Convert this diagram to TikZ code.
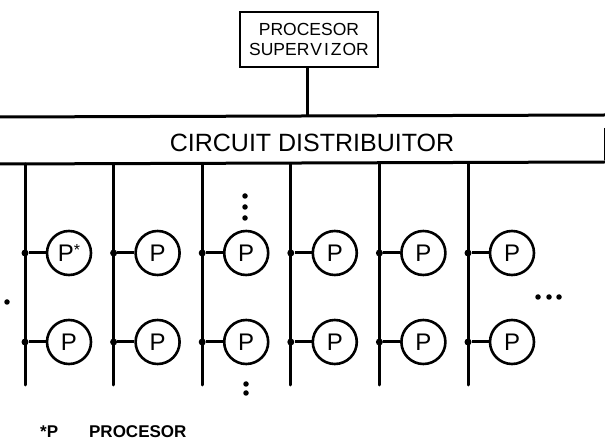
\documentclass[tikz,border=0pt]{standalone}
\usepackage{fontspec}
\setmainfont{Liberation Sans}
\begin{document}
\begin{tikzpicture}[x=1pt,y=-1pt,
  line/.style={line width=3pt},
  pnode/.style={circle,draw,line width=2.6pt,minimum size=44pt,inner sep=0pt,font=\fontsize{24}{24}\selectfont},
  jdot/.style={circle,fill,inner sep=0pt,minimum size=7pt},
  bigdot/.style={circle,fill,inner sep=0pt,minimum size=5.5pt}]
\useasboundingbox (0,0) rectangle (605,443);
% supervisor
\node[draw,line width=2.4pt,minimum width=138pt,minimum height=55pt,align=center,
      font=\fontsize{17.5}{20}\selectfont] (sup) at (309,39.5) {PROCESOR\\SUPER\hspace{1pt}V\hspace{2pt}I\hspace{2pt}Z\hspace{1pt}OR};
% distributor
\coordinate (dtl) at (0,117);
\coordinate (dtr) at (605,115);
\coordinate (dbl) at (0,164);
\coordinate (dbr) at (605,162);
\draw[line] (dtl) -- (dtr);
\draw[line] (dbl) -- (dbr);
\draw[line width=1pt] (604,128) -- (604,160);
\node[font=\fontsize{25}{25}\selectfont] (dist) at (312,143) {CIRCUIT DISTRIBUITOR};
\coordinate (dtop) at (307,117);
\draw[line] (sup.south -| dtop) -- (dtop);
% columns
\foreach \i in {0,...,5}{
  \pgfmathsetmacro{\bx}{25+88.6*\i}
  \coordinate (bt\i) at (\bx,164);
  \coordinate (bb\i) at (\bx,385);
  \draw[line,line cap=round] (bt\i) -- (bb\i);
  \node[jdot] (ja\i) at (\bx,253) {};
  \node[jdot] (jb\i) at (\bx,342) {};
  \ifnum\i=0
    \node[pnode] (pa\i) at (\bx+44,253) {P\raisebox{6pt}{\fontsize{16}{16}\selectfont*}};
  \else
    \node[pnode] (pa\i) at (\bx+44,253) {P};
  \fi
  \node[pnode] (pb\i) at (\bx+44,342) {P};
  \draw[line] (ja\i) -- (pa\i);
  \draw[line] (jb\i) -- (pb\i);
}
% ellipsis dots
\foreach \y in {196,207,218}{\node[bigdot] at (245,\y) {};}
\foreach \y in {384,393}{\node[bigdot] at (246,\y) {};}
\foreach \x in {538,549,559}{\node[bigdot] at (\x,297) {};}
\node[bigdot] (stray) at (7,302) {};
% legend
\node[anchor=west,font=\bfseries\fontsize{17}{17}\selectfont,inner sep=0pt] (leg) at (40,432) {*P\hspace{31pt}PROCESOR};
\end{tikzpicture}
\end{document}
